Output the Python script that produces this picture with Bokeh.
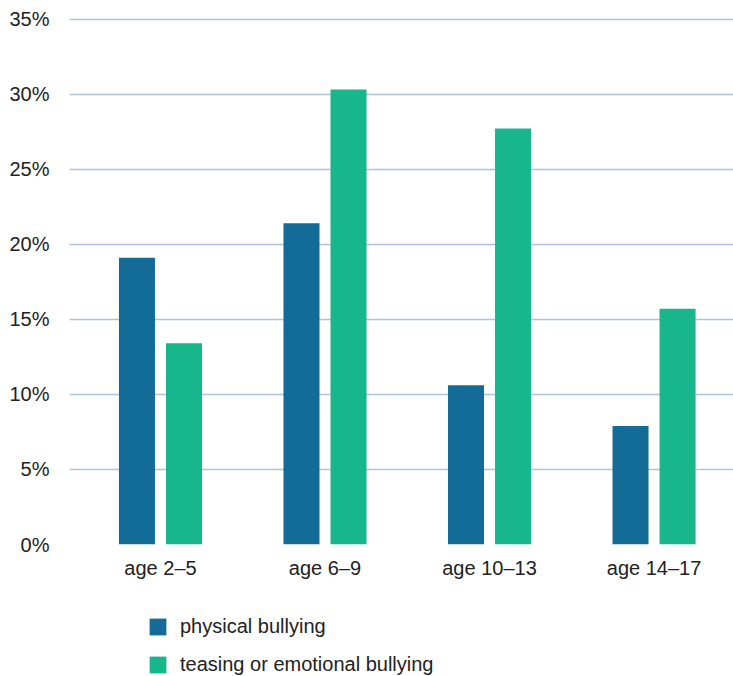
from bokeh.plotting import figure
from bokeh.layouts import column
from bokeh.models import Range1d, FixedTicker, PrintfTickFormatter, Legend, LegendItem, ColumnDataSource
from bokeh.embed import file_html
from bokeh.resources import INLINE

categories = ["age 2–5", "age 6–9", "age 10–13", "age 14–17"]
physical = [19.1, 21.4, 10.6, 7.9]
teasing = [13.4, 30.3, 27.7, 15.7]
series_names = ["physical bullying", "teasing or emotional bullying"]
y_ticks = [0, 5, 10, 15, 20, 25, 30, 35]

BLUE = "#136c98"
GREEN = "#17b68b"
TEXT = "#222222"
GRID = "#adc3dc"
FONT = "Liberation Sans"

idx = list(range(len(categories)))
src = ColumnDataSource(dict(
    x_p=[i - 0.143 for i in idx],
    x_t=[i + 0.143 for i in idx],
    physical=physical,
    teasing=teasing,
))

p = figure(width=733, height=600, output_backend="svg", toolbar_location=None,
           x_range=Range1d(-0.553, 3.483), y_range=Range1d(0, 35.1),
           min_border_left=69, min_border_right=0, min_border_top=17, min_border_bottom=56)
p.outline_line_color = None
p.background_fill_color = "white"
p.border_fill_color = "white"

p.vbar(x="x_p", top="physical", width=0.219, source=src, fill_color=BLUE, line_color=None)
p.vbar(x="x_t", top="teasing", width=0.219, source=src, fill_color=GREEN, line_color=None)

p.xgrid.grid_line_color = None
p.ygrid.grid_line_color = GRID
p.ygrid.grid_line_width = 1.3
p.ygrid.ticker = FixedTicker(ticks=y_ticks)

p.yaxis.ticker = FixedTicker(ticks=y_ticks)
p.yaxis.formatter = PrintfTickFormatter(format="%d%%")
p.yaxis.axis_line_color = None
p.yaxis.major_tick_line_color = None
p.yaxis.minor_tick_line_color = None
p.yaxis.major_tick_out = 0
p.yaxis.major_label_standoff = 20
p.yaxis.major_label_text_font = FONT
p.yaxis.major_label_text_font_size = "20px"
p.yaxis.major_label_text_color = TEXT

p.xaxis.ticker = FixedTicker(ticks=idx)
p.xaxis.major_label_overrides = {i: c for i, c in zip(idx, categories)}
p.xaxis.axis_line_color = None
p.xaxis.major_tick_line_color = None
p.xaxis.minor_tick_line_color = None
p.xaxis.major_tick_out = 0
p.xaxis.major_label_standoff = 12
p.xaxis.major_label_text_font = FONT
p.xaxis.major_label_text_font_size = "20px"
p.xaxis.major_label_text_color = TEXT

# legend panel: the same series as zero-height bars far out of view, only to key the legend
lg = figure(width=733, height=76, output_backend="svg", toolbar_location=None,
            x_range=Range1d(-0.553, 3.483), y_range=Range1d(1000, 1001),
            x_axis_location=None, y_axis_location=None,
            min_border_left=0, min_border_right=0, min_border_top=0, min_border_bottom=0)
lg.grid.visible = False
lg.outline_line_color = None
lg.background_fill_color = "white"
lg.border_fill_color = "white"
l1 = lg.vbar(x="x_p", top="physical", bottom="physical", width=0.219, source=src,
             fill_color=BLUE, line_color=None)
l2 = lg.vbar(x="x_t", top="teasing", bottom="teasing", width=0.219, source=src,
             fill_color=GREEN, line_color=None)
legend = Legend(items=[LegendItem(label=series_names[0], renderers=[l1]),
                       LegendItem(label=series_names[1], renderers=[l2])],
                location=(78, 0), orientation="vertical",
                glyph_width=21, glyph_height=21, label_height=21,
                label_standoff=12, spacing=15, padding=0, margin=0,
                border_line_color=None, background_fill_alpha=0,
                label_text_font=FONT, label_text_font_size="20px",
                label_text_color=TEXT)
lg.add_layout(legend, "center")

layout = column(p, lg, spacing=0)
open("out.html", "w").write(file_html(layout, INLINE))
